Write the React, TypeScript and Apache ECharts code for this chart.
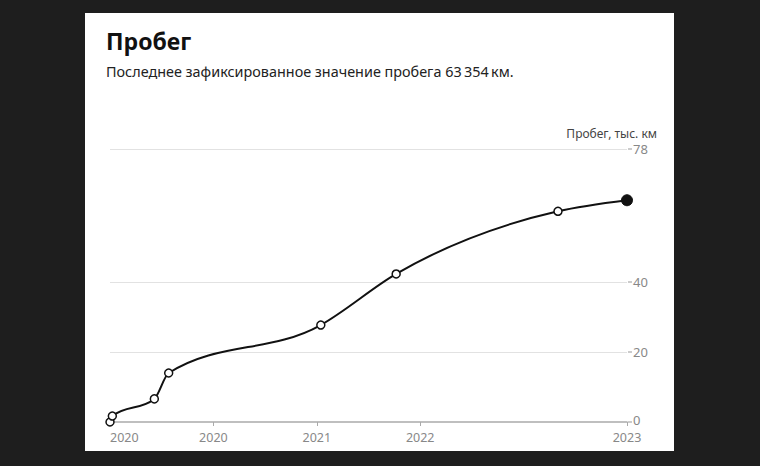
import React, { useEffect, useRef } from "react";
import * as echarts from "echarts";

// x values: months since March 2020
const monthsSinceStart = [0, 0.18, 3.43, 4.54, 16.31, 22.14, 34.66, 40];
const mileage = [0, 1.7, 6.6, 14.0, 27.7, 42.3, 60.2, 63.354];
const xTickValues = [8, 16, 24, 40];
const xLabelValues = [0, 8, 16, 24, 40];
const xLabelTexts = ["2020", "2020", "2021", "2022", "2023"];
const yTickValues = [0, 20, 40, 78];
const titleText = "Пробег";
const subtitleText = "Последнее зафиксированное значение пробега 63\u2009354\u2009км.";
const yAxisTitle = "Пробег, тыс. км";

const FONT = "'Noto Sans', sans-serif";

// monotone-X cubic path (as d3.curveMonotoneX) through pixel points
function monotonePath(pts: number[][]): string {
  const n = pts.length;
  if (n < 2) return "";
  const sign = (v: number) => (v < 0 ? -1 : 1);
  const t: number[] = new Array(n).fill(0);
  for (let i = 1; i < n - 1; i++) {
    const [x0, y0] = pts[i - 1];
    const [x1, y1] = pts[i];
    const [x2, y2] = pts[i + 1];
    const h0 = x1 - x0;
    const h1 = x2 - x1;
    const s0 = (y1 - y0) / h0;
    const s1 = (y2 - y1) / h1;
    const p = (s0 * h1 + s1 * h0) / (h0 + h1);
    t[i] = (sign(s0) + sign(s1)) * Math.min(Math.abs(s0), Math.abs(s1), 0.5 * Math.abs(p)) || 0;
  }
  const slope2 = (a: number[], b: number[], tt: number) => {
    const h = b[0] - a[0];
    return h ? (3 * (b[1] - a[1]) / h - tt) / 2 : tt;
  };
  if (n === 2) {
    return `M${pts[0][0]},${pts[0][1]}L${pts[1][0]},${pts[1][1]}`;
  }
  t[0] = slope2(pts[0], pts[1], t[1]);
  t[n - 1] = slope2(pts[n - 2], pts[n - 1], t[n - 2]);
  let d = `M${pts[0][0]},${pts[0][1]}`;
  for (let i = 0; i < n - 1; i++) {
    const [x0, y0] = pts[i];
    const [x1, y1] = pts[i + 1];
    const dx = (x1 - x0) / 3;
    d += `C${x0 + dx},${y0 + dx * t[i]},${x1 - dx},${y1 - dx * t[i + 1]},${x1},${y1}`;
  }
  return d;
}

export default function App() {
  const ref = useRef<HTMLDivElement>(null);
  useEffect(() => {
    document.body.style.margin = "0";
    const chart = echarts.init(ref.current!, undefined, { renderer: "svg" });
    const last = mileage.length - 1;
    const pairs = monthsSinceStart.map((x, i) => [x, mileage[i]]);
    const markerData = pairs.map((p, i) =>
      i === last
        ? {
            value: p,
            symbolSize: 11,
            itemStyle: { color: "#111", borderColor: "#111", borderWidth: 1 },
          }
        : { value: p }
    );
    const labelRich = {
      color: "#888",
      fontSize: 13,
      lineHeight: 12,
      fontFamily: FONT,
    };
    chart.setOption({
      animation: false,
      backgroundColor: "#ffffff",
      textStyle: { fontFamily: FONT },
      grid: { left: 25, right: 47, top: 136, bottom: 29 },
      graphic: [
        {
          type: "text",
          left: 21,
          top: 16,
          style: { text: titleText, font: `bold 23px ${FONT}`, fill: "#111" },
        },
        {
          type: "text",
          left: 21,
          top: 51,
          style: { text: subtitleText, font: `14.4px ${FONT}`, fill: "#222" },
        },
        {
          type: "text",
          right: 17,
          top: 114,
          style: { text: yAxisTitle, font: `12px ${FONT}`, fill: "#444" },
        },
      ],
      xAxis: {
        type: "value",
        min: 0,
        max: 40,
        axisLine: { show: true, lineStyle: { color: "#aaa", width: 1.5 } },
        axisTick: {
          show: true,
          customValues: xTickValues,
          length: 4,
          lineStyle: { color: "#aaa" },
        },
        axisLabel: {
          customValues: xLabelValues,
          formatter: (v: number) => xLabelTexts[xLabelValues.indexOf(v)] ?? "",
          color: "#888",
          fontSize: 12.5,
          lineHeight: 12,
          fontFamily: FONT,
          margin: 9,
          alignMinLabel: "left",
          showMinLabel: true,
          showMaxLabel: true,
        },
        splitLine: { show: false },
      },
      yAxis: {
        type: "value",
        position: "right",
        min: 0,
        max: 78,
        axisLine: { show: false },
        axisTick: { show: false },
        axisLabel: {
          customValues: yTickValues,
          formatter: (v: number) => (v === 0 ? `{t|}{z|${v}}` : `{t|}{v|${v}}`),
          margin: 1,
          showMinLabel: true,
          showMaxLabel: true,
          rich: {
            t: { width: 4, height: 1, backgroundColor: "#999" },
            v: { ...labelRich, padding: [0, 0, 0, 1] },
            z: { ...labelRich, padding: [0, 0, 4, 1] },
          },
        },
        splitLine: { show: false },
      },
      series: [
        {
          type: "custom",
          data: pairs,
          z: 4,
          renderItem: (params: any, api: any) => {
            if (params.dataIndex !== 0) return null;
            const pts = pairs.map((p) => api.coord(p));
            return {
              type: "path",
              shape: { pathData: monotonePath(pts) },
              style: { fill: "none", stroke: "#111", lineWidth: 2 },
            };
          },
          silent: true,
        },
        {
          type: "scatter",
          data: markerData,
          symbol: "circle",
          symbolSize: 8,
          itemStyle: { color: "#fff", borderColor: "#111", borderWidth: 1.5, opacity: 1 },
          z: 5,
          markLine: {
            silent: true,
            symbol: "none",
            label: { show: false },
            lineStyle: { color: "#e2e2e2", width: 1, type: "solid" },
            emphasis: { disabled: true },
            z: 1,
            data: yTickValues.filter((v) => v > 0).map((v) => ({ yAxis: v })),
          },
        },
      ],
    });
    return () => chart.dispose();
  }, []);
  return (
    <div
      style={{
        position: "absolute",
        left: 0,
        top: 0,
        width: 760,
        height: 466,
        background: "#1e1e1e",
      }}
    >
      <div
        ref={ref}
        style={{ position: "absolute", left: 85, top: 13, width: 589, height: 438 }}
      />
    </div>
  );
}
